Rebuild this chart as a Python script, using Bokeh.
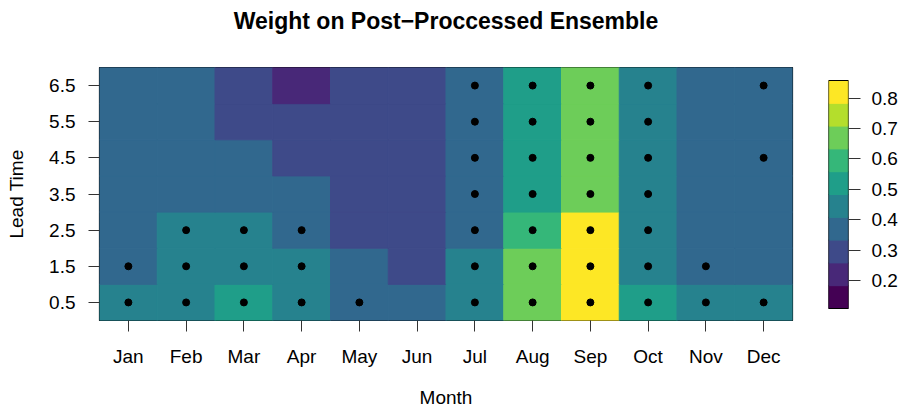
from bokeh.plotting import figure
from bokeh.models import ColumnDataSource, LinearColorMapper, FixedTicker
from bokeh.core.properties import value
from bokeh.transform import transform
from bokeh.layouts import row, column
from bokeh.embed import file_html
from bokeh.resources import INLINE

# ---------------- data ----------------
months = ["Jan", "Feb", "Mar", "Apr", "May", "Jun", "Jul", "Aug", "Sep", "Oct", "Nov", "Dec"]
leads = [0.5, 1.5, 2.5, 3.5, 4.5, 5.5, 6.5]

# weight on post-processed ensemble, one row per lead time (Jan..Dec)
weights_lead_0_5 = [0.45, 0.45, 0.52, 0.45, 0.37, 0.37, 0.45, 0.67, 0.83, 0.52, 0.45, 0.45]
weights_lead_1_5 = [0.37, 0.45, 0.45, 0.45, 0.37, 0.30, 0.45, 0.67, 0.83, 0.45, 0.37, 0.37]
weights_lead_2_5 = [0.37, 0.45, 0.45, 0.37, 0.30, 0.30, 0.37, 0.60, 0.83, 0.45, 0.37, 0.37]
weights_lead_3_5 = [0.37, 0.37, 0.37, 0.37, 0.30, 0.30, 0.37, 0.52, 0.67, 0.45, 0.37, 0.37]
weights_lead_4_5 = [0.37, 0.37, 0.37, 0.30, 0.30, 0.30, 0.37, 0.52, 0.67, 0.45, 0.37, 0.37]
weights_lead_5_5 = [0.37, 0.37, 0.30, 0.30, 0.30, 0.30, 0.37, 0.52, 0.67, 0.45, 0.37, 0.37]
weights_lead_6_5 = [0.37, 0.37, 0.30, 0.22, 0.30, 0.30, 0.37, 0.52, 0.67, 0.45, 0.37, 0.37]
weights = [weights_lead_0_5, weights_lead_1_5, weights_lead_2_5, weights_lead_3_5,
           weights_lead_4_5, weights_lead_5_5, weights_lead_6_5]

# significance markers (1 = dot), one row per lead time
signif_lead_0_5 = [1, 1, 1, 1, 1, 0, 1, 1, 1, 1, 1, 1]
signif_lead_1_5 = [1, 1, 1, 1, 0, 0, 1, 1, 1, 1, 1, 0]
signif_lead_2_5 = [0, 1, 1, 1, 0, 0, 1, 1, 1, 1, 0, 0]
signif_lead_3_5 = [0, 0, 0, 0, 0, 0, 1, 1, 1, 1, 0, 0]
signif_lead_4_5 = [0, 0, 0, 0, 0, 0, 1, 1, 1, 1, 0, 1]
signif_lead_5_5 = [0, 0, 0, 0, 0, 0, 1, 1, 1, 1, 0, 0]
signif_lead_6_5 = [0, 0, 0, 0, 0, 0, 1, 1, 1, 1, 0, 1]
significant = [signif_lead_0_5, signif_lead_1_5, signif_lead_2_5, signif_lead_3_5,
               signif_lead_4_5, signif_lead_5_5, signif_lead_6_5]

palette = ["#440154", "#482878", "#3E4A89", "#31688E", "#26828E",
           "#1F9E89", "#35B779", "#6DCD59", "#B4DE2C", "#FDE725"]
scale_low, scale_high = 0.108, 0.858
bar_ticks = [0.2, 0.3, 0.4, 0.5, 0.6, 0.7, 0.8]
title_text = "Weight on Post\u2212Proccessed Ensemble"

FONT = "Liberation Sans"
TITLE_H = 40
H = 370
TOP, BOTTOM = 27, 90

# ---------------- build sources ----------------
xs, ys, zs, dx, dy = [], [], [], [], []
for i, lead in enumerate(leads):
    for j in range(len(months)):
        xs.append(j + 1)
        ys.append(lead)
        zs.append(weights[i][j])
        if significant[i][j]:
            dx.append(j + 1)
            dy.append(lead)

cells = ColumnDataSource(dict(x=xs, y=ys, z=zs))
dots = ColumnDataSource(dict(x=dx, y=dy))
mapper = LinearColorMapper(palette=palette, low=scale_low, high=scale_high)

# ---------------- title strip ----------------
tf = figure(width=810, height=TITLE_H, x_range=(0, 1), y_range=(0, 1),
            output_backend="svg", toolbar_location=None,
            x_axis_location=None, y_axis_location=None,
            min_border_left=99, min_border_right=18, min_border_top=0, min_border_bottom=0)
tf.text(x=[0.5], y=[0.5], text=[title_text], text_align="center", text_baseline="middle",
        text_font=value(FONT), text_font_size="23px", text_font_style="bold", text_color="black")
tf.grid.visible = False
tf.outline_line_color = None
tf.border_fill_color = "white"

# ---------------- main plot ----------------
p = figure(width=810, height=H, x_range=(0.5, 12.5), y_range=(0, 7),
           output_backend="svg", toolbar_location=None,
           min_border_left=99, min_border_right=18, min_border_top=TOP, min_border_bottom=BOTTOM)
p.rect(x="x", y="y", width=1, height=1, source=cells,
       fill_color=transform("z", mapper), line_color=transform("z", mapper), line_width=1)
p.scatter(x="x", y="y", source=dots, size=7, color="black")

p.grid.visible = False
p.outline_line_color = "black"
p.outline_line_width = 1.2
p.background_fill_color = "white"
p.border_fill_color = "white"

p.xaxis.ticker = FixedTicker(ticks=list(range(1, 13)))
p.xaxis.major_label_overrides = {i + 1: m for i, m in enumerate(months)}
p.yaxis.ticker = FixedTicker(ticks=leads)
p.yaxis.major_label_overrides = {l: str(l) for l in leads}
p.xaxis.axis_label = "Month"
p.yaxis.axis_label = "Lead Time"

for ax in (p.xaxis, p.yaxis):
    ax.axis_line_color = None
    ax.minor_tick_line_color = None
    ax.major_tick_in = 0
    ax.major_tick_out = 11
    ax.major_tick_line_color = "#333333"
    ax.major_label_text_font = FONT
    ax.major_label_text_font_size = "19px"
    ax.major_label_text_color = "black"
    ax.axis_label_text_font = FONT
    ax.axis_label_text_font_size = "19px"
    ax.axis_label_text_font_style = "normal"
    ax.axis_label_text_color = "black"

p.xaxis.major_label_standoff = 14
p.xaxis.axis_label_standoff = 17
p.yaxis.major_label_standoff = 13
p.yaxis.axis_label_standoff = 19

# ---------------- colour bar ----------------
n = len(palette)
step = (scale_high - scale_low) / n
edges = [scale_low + k * step for k in range(n + 1)]

# bar occupies pixels 80..308 inside a frame spanning 67..320
bar_px = 228.0
per_px = (scale_high - scale_low) / bar_px
cb_range = (scale_low - 12 * per_px, scale_high + 13 * per_px)

cb = figure(width=90, height=H, x_range=(0, 1), y_range=cb_range,
            output_backend="svg", toolbar_location=None,
            x_axis_location=None, y_axis_location="right",
            min_border_left=18, min_border_right=50, min_border_top=TOP, min_border_bottom=BOTTOM)
cb.quad(left=0, right=1, bottom=edges[:-1], top=edges[1:],
        fill_color=palette, line_color=palette, line_width=1)
cb.quad(left=0, right=1, bottom=edges[0], top=edges[-1],
        fill_color=None, line_color="black", line_width=1.2)
cb.grid.visible = False
cb.outline_line_color = None
cb.border_fill_color = "white"
cb.yaxis.ticker = FixedTicker(ticks=bar_ticks)
cb.yaxis.axis_line_color = None
cb.yaxis.minor_tick_line_color = None
cb.yaxis.major_tick_in = 0
cb.yaxis.major_tick_out = 12
cb.yaxis.major_tick_line_color = "#333333"
cb.yaxis.major_label_standoff = 11
cb.yaxis.major_label_text_font = FONT
cb.yaxis.major_label_text_font_size = "19px"
cb.yaxis.major_label_text_color = "black"

layout = column(tf, row(p, cb))
open("out.html", "w").write(file_html(layout, INLINE))
